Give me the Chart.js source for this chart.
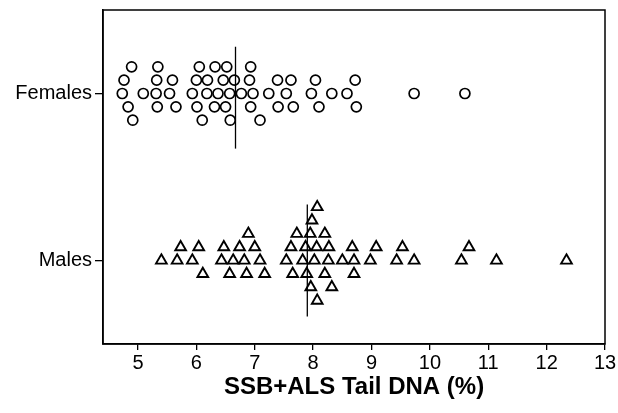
<!DOCTYPE html>
<html>
<head>
<meta charset="utf-8">
<script src="https://cdn.jsdelivr.net/npm/chart.js@4"></script>
<style>
  html, body { margin: 0; padding: 0; background: #fff; }
  #wrap { width: 618px; height: 413px; }
</style>
</head>
<body>
<div id="wrap"><canvas id="grafica"></canvas></div>
<script>
// Categorías (eje y) y valores
const categorias = ['Males', 'Females'];

const valoresHembras = [
  4.73, 4.76, 4.83, 4.89, 4.91, 5.09, 5.31, 5.32, 5.33, 5.34,
  5.54, 5.59, 5.65, 5.93, 6.00, 6.01, 6.05, 6.10, 6.18, 6.19,
  6.31, 6.32, 6.37, 6.46, 6.50, 6.52, 6.57, 6.58, 6.65, 6.77,
  6.91, 6.93, 6.93, 6.97, 7.09, 7.24, 7.39, 7.40, 7.54, 7.62,
  7.66, 7.97, 8.04, 8.10, 8.32, 8.58, 8.72, 8.74, 9.73, 10.60
];

const valoresMachos = [
  5.40, 5.67, 5.73, 5.93, 6.04, 6.11, 6.43, 6.47, 6.57, 6.63,
  6.74, 6.82, 6.86, 6.89, 7.00, 7.09, 7.17, 7.54, 7.62, 7.65,
  7.72, 7.82, 7.87, 7.89, 7.95, 7.96, 7.98, 8.02, 8.06, 8.07,
  8.07, 8.20, 8.20, 8.26, 8.27, 8.32, 8.50, 8.67, 8.70, 8.70,
  8.98, 9.08, 9.43, 9.53, 9.73, 10.54, 10.67, 11.14, 12.34
];

// Línea vertical de cada grupo
const lineasCentrales = [7.90, 6.67];

const ticksX = [5, 6, 7, 8, 9, 10, 11, 12, 13];

// ─────────────────────────────────────────────────────────────
// Apilado tipo "swarm": cada punto sube/baja de nivel si choca
// ─────────────────────────────────────────────────────────────
const SEPARACION_X = 0.19;
const PASO_NIVEL = 0.08;

function apilar(valores, centro) {
  const colocados = [];
  return [...valores].sort((a, b) => a - b).map(v => {
    for (let k = 0; ; k++) {
      const nivel = k === 0 ? 0 : (k % 2 === 1 ? (k + 1) / 2 : -k / 2);
      const choca = colocados.some(p => p.nivel === nivel && Math.abs(p.x - v) < SEPARACION_X);
      if (!choca) {
        colocados.push({ x: v, nivel });
        return { x: v, y: centro + nivel * PASO_NIVEL };
      }
    }
  });
}

// Marco completo alrededor del área de la gráfica
const marco = {
  id: 'marco',
  afterDraw(chart) {
    const { ctx, chartArea: a } = chart;
    ctx.save();
    ctx.strokeStyle = '#000';
    ctx.lineWidth = 1.5;
    ctx.strokeRect(a.left, a.top, a.right - a.left, a.bottom - a.top);
    ctx.restore();
  }
};

const fuente = 'Liberation Sans, Arial, sans-serif';
const ctx = document.getElementById('grafica').getContext('2d');

new Chart(ctx, {
  type: 'scatter',
  data: {
    datasets: [
      {
        label: 'Females',
        data: apilar(valoresHembras, 1),
        pointStyle: 'circle',
        pointRadius: 5,
        borderColor: '#000',
        borderWidth: 1.7,
        backgroundColor: 'rgba(0,0,0,0)'
      },
      {
        label: 'Males',
        data: apilar(valoresMachos, 0),
        pointStyle: 'triangle',
        pointRadius: 6.2,
        borderColor: '#000',
        borderWidth: 1.9,
        backgroundColor: 'rgba(0,0,0,0)'
      },
      {
        label: 'Linea Males',
        data: [{ x: lineasCentrales[0], y: -0.335 }, { x: lineasCentrales[0], y: 0.335 }],
        showLine: true,
        pointRadius: 0,
        borderColor: '#000',
        borderWidth: 1.3
      },
      {
        label: 'Linea Females',
        data: [{ x: lineasCentrales[1], y: 1 - 0.33 }, { x: lineasCentrales[1], y: 1 + 0.28 }],
        showLine: true,
        pointRadius: 0,
        borderColor: '#000',
        borderWidth: 1.3
      }
    ]
  },
  options: {
    responsive: true,
    maintainAspectRatio: false,
    animation: false,
    layout: { padding: { left: 0, right: 13, top: 10, bottom: 0 } },
    plugins: {
      legend: { display: false },
      tooltip: { enabled: false }
    },
    scales: {
      x: {
        type: 'linear',
        min: 4.4,
        max: 13,
        afterBuildTicks: axis => { axis.ticks = ticksX.map(v => ({ value: v })); },
        afterFit: axis => { axis.height = 69; },
        grid: { drawOnChartArea: false, tickLength: 6, color: '#000', lineWidth: 1.3 },
        border: { color: '#000', width: 1.5 },
        ticks: {
          color: '#000',
          padding: 1,
          maxRotation: 0,
          font: { family: fuente, size: 20 }
        },
        title: {
          display: true,
          text: 'SSB+ALS Tail DNA (%)',
          color: '#000',
          padding: { top: 0, bottom: 11 },
          font: { family: fuente, size: 24, weight: 'bold' }
        }
      },
      y: {
        type: 'linear',
        min: -0.5,
        max: 1.5,
        afterBuildTicks: axis => { axis.ticks = categorias.map((c, i) => ({ value: i })); },
        afterFit: axis => {
          axis.width = 103;
          axis.paddingTop = 0;
          axis.paddingBottom = 0;
        },
        grid: { drawOnChartArea: false, tickLength: 8, color: '#000', lineWidth: 1.3 },
        border: { color: '#000', width: 1.5 },
        ticks: {
          color: '#000',
          padding: 3,
          callback: v => categorias[v],
          font: { family: fuente, size: 20 }
        }
      }
    }
  },
  plugins: [marco]
});
</script>
</body>
</html>
